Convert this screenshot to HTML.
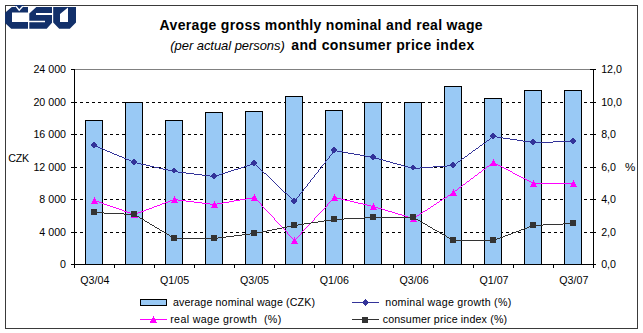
<!DOCTYPE html><html><head><meta charset="utf-8"><style>html,body{margin:0;padding:0;background:#fff;}svg{display:block;}text{font-family:"Liberation Sans",sans-serif;}</style></head><body>
<svg width="643" height="333" viewBox="0 0 643 333">
<rect x="0" y="0" width="643" height="333" fill="#fff"/>
<rect x="5.5" y="5.5" width="632" height="323" fill="none" stroke="#3a3a3a" stroke-width="1" shape-rendering="crispEdges"/>
<g fill="#12306a" shape-rendering="geometricPrecision">
<path d="M5,12.8 L11.8,7 L28,7 L28,12.6 L12,12.6 L12,22 L28,22 L28,28.7 L11.2,28.7 L5,23 Z"/>
<path d="M14.2,5 L24.4,5 L19.1,11 Z"/>
</g>
<defs><clipPath id="vc"><rect x="0" y="5.9" width="40" height="10"/></clipPath></defs>
<path d="M14.7,4.6 L19.2,10.1 L24,4.8" fill="none" stroke="#fff" stroke-width="1.35" clip-path="url(#vc)"/>
<path fill="#12306a" d="M29.3,13.4 L36.3,7 L52,7 L52,13 L36,13 L36,15.1 L52,15.1 L52,22.7 L46.7,28.7 L29.3,28.7 L29.3,22.2 L45,22.2 L45,20.7 L29.3,20.7 Z"/>
<path fill="#12306a" d="M53.2,7 L76,7 L76,22.5 L69.8,28.7 L59.2,28.7 L53.2,22.5 Z M60,14 L68,7.6 L68,22 L60,22 Z" fill-rule="evenodd"/>
<text x="159.6" y="29.5" font-size="14" font-weight="bold" fill="#000" textLength="323" lengthAdjust="spacing">Average gross monthly nominal and real wage</text>
<text x="170.3" y="49.5" font-size="13" font-style="italic" fill="#000" textLength="114.5" lengthAdjust="spacing">(per actual persons)</text>
<text x="291.2" y="49.5" font-size="14" font-weight="bold" fill="#000" textLength="183" lengthAdjust="spacing">and consumer price index</text>
<line x1="74" y1="102.5" x2="593" y2="102.5" stroke="#000" stroke-width="1" stroke-dasharray="3 3" shape-rendering="crispEdges"/>
<line x1="74" y1="134.5" x2="593" y2="134.5" stroke="#000" stroke-width="1" stroke-dasharray="3 3" shape-rendering="crispEdges"/>
<line x1="74" y1="167.5" x2="593" y2="167.5" stroke="#000" stroke-width="1" stroke-dasharray="3 3" shape-rendering="crispEdges"/>
<line x1="74" y1="199.5" x2="593" y2="199.5" stroke="#000" stroke-width="1" stroke-dasharray="3 3" shape-rendering="crispEdges"/>
<line x1="74" y1="232.5" x2="593" y2="232.5" stroke="#000" stroke-width="1" stroke-dasharray="3 3" shape-rendering="crispEdges"/>
<line x1="75" y1="69.5" x2="593" y2="69.5" stroke="#808080" stroke-width="1" shape-rendering="crispEdges"/>
<rect x="85.5" y="120.5" width="17" height="144" fill="#99c9f5" stroke="#000" stroke-width="1" shape-rendering="crispEdges"/>
<rect x="125.5" y="102.5" width="17" height="162" fill="#99c9f5" stroke="#000" stroke-width="1" shape-rendering="crispEdges"/>
<rect x="165.5" y="120.5" width="17" height="144" fill="#99c9f5" stroke="#000" stroke-width="1" shape-rendering="crispEdges"/>
<rect x="205.5" y="112.5" width="17" height="152" fill="#99c9f5" stroke="#000" stroke-width="1" shape-rendering="crispEdges"/>
<rect x="245.5" y="111.5" width="17" height="153" fill="#99c9f5" stroke="#000" stroke-width="1" shape-rendering="crispEdges"/>
<rect x="285.5" y="96.5" width="17" height="168" fill="#99c9f5" stroke="#000" stroke-width="1" shape-rendering="crispEdges"/>
<rect x="325.5" y="110.5" width="17" height="154" fill="#99c9f5" stroke="#000" stroke-width="1" shape-rendering="crispEdges"/>
<rect x="364.5" y="102.5" width="17" height="162" fill="#99c9f5" stroke="#000" stroke-width="1" shape-rendering="crispEdges"/>
<rect x="404.5" y="102.5" width="17" height="162" fill="#99c9f5" stroke="#000" stroke-width="1" shape-rendering="crispEdges"/>
<rect x="444.5" y="86.5" width="17" height="178" fill="#99c9f5" stroke="#000" stroke-width="1" shape-rendering="crispEdges"/>
<rect x="484.5" y="98.5" width="17" height="166" fill="#99c9f5" stroke="#000" stroke-width="1" shape-rendering="crispEdges"/>
<rect x="524.5" y="90.5" width="17" height="174" fill="#99c9f5" stroke="#000" stroke-width="1" shape-rendering="crispEdges"/>
<rect x="564.5" y="90.5" width="17" height="174" fill="#99c9f5" stroke="#000" stroke-width="1" shape-rendering="crispEdges"/>
<g stroke="#000" stroke-width="1" shape-rendering="crispEdges">
<line x1="74.5" y1="69" x2="74.5" y2="268"/>
<line x1="593.5" y1="69" x2="593.5" y2="268"/>
<line x1="74" y1="264.5" x2="594" y2="264.5"/>
<line x1="71" y1="69.5" x2="75" y2="69.5"/>
<line x1="590" y1="69.5" x2="596" y2="69.5"/>
<line x1="71" y1="102.5" x2="77" y2="102.5"/>
<line x1="590" y1="102.5" x2="596" y2="102.5"/>
<line x1="71" y1="134.5" x2="77" y2="134.5"/>
<line x1="590" y1="134.5" x2="596" y2="134.5"/>
<line x1="71" y1="167.5" x2="77" y2="167.5"/>
<line x1="590" y1="167.5" x2="596" y2="167.5"/>
<line x1="71" y1="199.5" x2="77" y2="199.5"/>
<line x1="590" y1="199.5" x2="596" y2="199.5"/>
<line x1="71" y1="232.5" x2="77" y2="232.5"/>
<line x1="590" y1="232.5" x2="596" y2="232.5"/>
<line x1="71" y1="264.5" x2="77" y2="264.5"/>
<line x1="590" y1="264.5" x2="596" y2="264.5"/>
<line x1="74.5" y1="265" x2="74.5" y2="268"/>
<line x1="114.5" y1="265" x2="114.5" y2="268"/>
<line x1="154.5" y1="265" x2="154.5" y2="268"/>
<line x1="194.5" y1="265" x2="194.5" y2="268"/>
<line x1="234.5" y1="265" x2="234.5" y2="268"/>
<line x1="274.5" y1="265" x2="274.5" y2="268"/>
<line x1="314.5" y1="265" x2="314.5" y2="268"/>
<line x1="353.5" y1="265" x2="353.5" y2="268"/>
<line x1="393.5" y1="265" x2="393.5" y2="268"/>
<line x1="433.5" y1="265" x2="433.5" y2="268"/>
<line x1="473.5" y1="265" x2="473.5" y2="268"/>
<line x1="513.5" y1="265" x2="513.5" y2="268"/>
<line x1="553.5" y1="265" x2="553.5" y2="268"/>
<line x1="593.5" y1="265" x2="593.5" y2="268"/>
</g>
<path d="M493 136h4v1h-4zM491 137h2v1h-2zM497 137h6v1h-6zM490 138h1v1h-1zM503 138h7v1h-7zM489 139h1v1h-1zM510 139h7v1h-7zM487 140h2v1h-2zM517 140h6v1h-6zM486 141h1v1h-1zM523 141h7v1h-7zM553 141h21v1h-21zM485 142h1v1h-1zM530 142h23v1h-23zM483 143h2v1h-2zM482 144h1v1h-1zM94 145h2v1h-2zM480 145h2v1h-2zM96 146h2v1h-2zM479 146h1v1h-1zM98 147h2v1h-2zM478 147h1v1h-1zM100 148h3v1h-3zM476 148h2v1h-2zM103 149h2v1h-2zM475 149h1v1h-1zM105 150h2v1h-2zM334 150h3v1h-3zM473 150h2v1h-2zM107 151h3v1h-3zM333 151h1v1h-1zM337 151h6v1h-6zM472 151h1v1h-1zM110 152h2v1h-2zM332 152h1v1h-1zM343 152h5v1h-5zM471 152h1v1h-1zM112 153h2v1h-2zM332 153h1v1h-1zM348 153h6v1h-6zM469 153h2v1h-2zM114 154h3v1h-3zM331 154h1v1h-1zM354 154h6v1h-6zM468 154h1v1h-1zM117 155h2v1h-2zM330 155h1v1h-1zM360 155h5v1h-5zM467 155h1v1h-1zM119 156h3v1h-3zM329 156h1v1h-1zM365 156h6v1h-6zM465 156h2v1h-2zM122 157h2v1h-2zM329 157h1v1h-1zM371 157h4v1h-4zM464 157h1v1h-1zM124 158h2v1h-2zM328 158h1v1h-1zM375 158h4v1h-4zM462 158h2v1h-2zM126 159h3v1h-3zM327 159h1v1h-1zM379 159h4v1h-4zM461 159h1v1h-1zM129 160h2v1h-2zM326 160h1v1h-1zM383 160h3v1h-3zM460 160h1v1h-1zM131 161h2v1h-2zM325 161h1v1h-1zM386 161h4v1h-4zM458 161h2v1h-2zM133 162h4v1h-4zM325 162h1v1h-1zM390 162h3v1h-3zM457 162h1v1h-1zM137 163h4v1h-4zM253 163h2v1h-2zM324 163h1v1h-1zM393 163h4v1h-4zM456 163h1v1h-1zM141 164h5v1h-5zM250 164h3v1h-3zM255 164h1v1h-1zM323 164h1v1h-1zM397 164h4v1h-4zM454 164h2v1h-2zM146 165h4v1h-4zM247 165h3v1h-3zM256 165h1v1h-1zM322 165h1v1h-1zM401 165h3v1h-3zM447 165h7v1h-7zM150 166h4v1h-4zM244 166h3v1h-3zM257 166h1v1h-1zM321 166h1v1h-1zM404 166h4v1h-4zM433 166h14v1h-14zM154 167h5v1h-5zM241 167h3v1h-3zM258 167h1v1h-1zM321 167h1v1h-1zM408 167h4v1h-4zM420 167h13v1h-13zM159 168h4v1h-4zM238 168h3v1h-3zM259 168h1v1h-1zM320 168h1v1h-1zM412 168h8v1h-8zM163 169h5v1h-5zM234 169h4v1h-4zM260 169h1v1h-1zM319 169h1v1h-1zM168 170h4v1h-4zM231 170h3v1h-3zM261 170h1v1h-1zM318 170h1v1h-1zM172 171h6v1h-6zM228 171h3v1h-3zM262 171h1v1h-1zM318 171h1v1h-1zM178 172h8v1h-8zM225 172h3v1h-3zM263 172h1v1h-1zM317 172h1v1h-1zM186 173h8v1h-8zM222 173h3v1h-3zM264 173h2v1h-2zM316 173h1v1h-1zM194 174h8v1h-8zM219 174h3v1h-3zM266 174h1v1h-1zM315 174h1v1h-1zM202 175h8v1h-8zM216 175h3v1h-3zM267 175h1v1h-1zM314 175h1v1h-1zM210 176h6v1h-6zM268 176h1v1h-1zM314 176h1v1h-1zM269 177h1v1h-1zM313 177h1v1h-1zM270 178h1v1h-1zM312 178h1v1h-1zM271 179h1v1h-1zM311 179h1v1h-1zM272 180h1v1h-1zM310 180h1v1h-1zM273 181h1v1h-1zM310 181h1v1h-1zM274 182h1v1h-1zM309 182h1v1h-1zM275 183h1v1h-1zM308 183h1v1h-1zM276 184h1v1h-1zM307 184h1v1h-1zM277 185h1v1h-1zM307 185h1v1h-1zM278 186h1v1h-1zM306 186h1v1h-1zM279 187h1v1h-1zM305 187h1v1h-1zM280 188h1v1h-1zM304 188h1v1h-1zM281 189h1v1h-1zM303 189h1v1h-1zM282 190h1v1h-1zM303 190h1v1h-1zM283 191h1v1h-1zM302 191h1v1h-1zM284 192h2v1h-2zM301 192h1v1h-1zM286 193h1v1h-1zM300 193h1v1h-1zM287 194h1v1h-1zM299 194h1v1h-1zM288 195h1v1h-1zM299 195h1v1h-1zM289 196h1v1h-1zM298 196h1v1h-1zM290 197h1v1h-1zM297 197h1v1h-1zM291 198h1v1h-1zM296 198h1v1h-1zM292 199h1v1h-1zM296 199h1v1h-1zM293 200h1v1h-1zM295 200h1v1h-1zM294 201h1v1h-1z" fill="#333399" shape-rendering="crispEdges"/>
<path d="M94,141.6 L97.3,144.9 L94,148.20000000000002 L90.7,144.9 Z" fill="#333399" shape-rendering="crispEdges"/>
<path d="M134,158.79999999999998 L137.3,162.1 L134,165.4 L130.7,162.1 Z" fill="#333399" shape-rendering="crispEdges"/>
<path d="M174,167.39999999999998 L177.3,170.7 L174,174.0 L170.7,170.7 Z" fill="#333399" shape-rendering="crispEdges"/>
<path d="M214,172.6 L217.3,175.9 L214,179.20000000000002 L210.7,175.9 Z" fill="#333399" shape-rendering="crispEdges"/>
<path d="M254,159.6 L257.3,162.9 L254,166.20000000000002 L250.7,162.9 Z" fill="#333399" shape-rendering="crispEdges"/>
<path d="M294,197.7 L297.3,201 L294,204.3 L290.7,201 Z" fill="#333399" shape-rendering="crispEdges"/>
<path d="M334,146.7 L337.3,150 L334,153.3 L330.7,150 Z" fill="#333399" shape-rendering="crispEdges"/>
<path d="M373,153.6 L376.3,156.9 L373,160.20000000000002 L369.7,156.9 Z" fill="#333399" shape-rendering="crispEdges"/>
<path d="M413,164.39999999999998 L416.3,167.7 L413,171.0 L409.7,167.7 Z" fill="#333399" shape-rendering="crispEdges"/>
<path d="M453,161.7 L456.3,165 L453,168.3 L449.7,165 Z" fill="#333399" shape-rendering="crispEdges"/>
<path d="M493,132.5 L496.3,135.8 L493,139.10000000000002 L489.7,135.8 Z" fill="#333399" shape-rendering="crispEdges"/>
<path d="M533,138.89999999999998 L536.3,142.2 L533,145.5 L529.7,142.2 Z" fill="#333399" shape-rendering="crispEdges"/>
<path d="M573,137.89999999999998 L576.3,141.2 L573,144.5 L569.7,141.2 Z" fill="#333399" shape-rendering="crispEdges"/>
<path d="M493 162h1v1h-1zM491 163h2v1h-2zM494 163h2v1h-2zM490 164h1v1h-1zM496 164h2v1h-2zM489 165h1v1h-1zM498 165h2v1h-2zM487 166h2v1h-2zM500 166h2v1h-2zM486 167h1v1h-1zM502 167h2v1h-2zM485 168h1v1h-1zM504 168h2v1h-2zM483 169h2v1h-2zM506 169h2v1h-2zM482 170h1v1h-1zM508 170h2v1h-2zM481 171h1v1h-1zM510 171h2v1h-2zM479 172h2v1h-2zM512 172h1v1h-1zM478 173h1v1h-1zM513 173h2v1h-2zM477 174h1v1h-1zM515 174h2v1h-2zM475 175h2v1h-2zM517 175h2v1h-2zM474 176h1v1h-1zM519 176h2v1h-2zM473 177h1v1h-1zM521 177h2v1h-2zM471 178h2v1h-2zM523 178h2v1h-2zM470 179h1v1h-1zM525 179h2v1h-2zM469 180h1v1h-1zM527 180h2v1h-2zM467 181h2v1h-2zM529 181h2v1h-2zM466 182h1v1h-1zM531 182h2v1h-2zM465 183h1v1h-1zM533 183h41v1h-41zM463 184h2v1h-2zM462 185h1v1h-1zM461 186h1v1h-1zM459 187h2v1h-2zM458 188h1v1h-1zM457 189h1v1h-1zM455 190h2v1h-2zM454 191h1v1h-1zM453 192h1v1h-1zM451 193h2v1h-2zM450 194h1v1h-1zM448 195h2v1h-2zM447 196h1v1h-1zM252 197h3v1h-3zM334 197h3v1h-3zM445 197h2v1h-2zM246 198h6v1h-6zM255 198h1v1h-1zM333 198h1v1h-1zM337 198h4v1h-4zM443 198h2v1h-2zM173 199h5v1h-5zM240 199h6v1h-6zM256 199h1v1h-1zM332 199h1v1h-1zM341 199h4v1h-4zM442 199h1v1h-1zM94 200h2v1h-2zM170 200h3v1h-3zM178 200h8v1h-8zM234 200h6v1h-6zM257 200h1v1h-1zM331 200h1v1h-1zM345 200h5v1h-5zM440 200h2v1h-2zM96 201h3v1h-3zM168 201h2v1h-2zM186 201h8v1h-8zM229 201h5v1h-5zM258 201h1v1h-1zM330 201h1v1h-1zM350 201h4v1h-4zM439 201h1v1h-1zM99 202h3v1h-3zM165 202h3v1h-3zM194 202h8v1h-8zM223 202h6v1h-6zM259 202h1v1h-1zM329 202h1v1h-1zM354 202h4v1h-4zM437 202h2v1h-2zM102 203h2v1h-2zM162 203h3v1h-3zM202 203h8v1h-8zM217 203h6v1h-6zM260 203h1v1h-1zM328 203h1v1h-1zM358 203h5v1h-5zM436 203h1v1h-1zM104 204h3v1h-3zM160 204h2v1h-2zM210 204h7v1h-7zM261 204h1v1h-1zM327 204h1v1h-1zM363 204h4v1h-4zM434 204h2v1h-2zM107 205h3v1h-3zM157 205h3v1h-3zM261 205h1v1h-1zM327 205h1v1h-1zM367 205h4v1h-4zM433 205h1v1h-1zM110 206h3v1h-3zM154 206h3v1h-3zM262 206h1v1h-1zM326 206h1v1h-1zM371 206h4v1h-4zM431 206h2v1h-2zM113 207h3v1h-3zM152 207h2v1h-2zM263 207h1v1h-1zM325 207h1v1h-1zM375 207h3v1h-3zM430 207h1v1h-1zM116 208h3v1h-3zM149 208h3v1h-3zM264 208h1v1h-1zM324 208h1v1h-1zM378 208h4v1h-4zM428 208h2v1h-2zM119 209h3v1h-3zM146 209h3v1h-3zM265 209h1v1h-1zM323 209h1v1h-1zM382 209h3v1h-3zM427 209h1v1h-1zM122 210h2v1h-2zM144 210h2v1h-2zM266 210h1v1h-1zM322 210h1v1h-1zM385 210h3v1h-3zM425 210h2v1h-2zM124 211h3v1h-3zM141 211h3v1h-3zM267 211h1v1h-1zM321 211h1v1h-1zM388 211h4v1h-4zM423 211h2v1h-2zM127 212h3v1h-3zM138 212h3v1h-3zM268 212h1v1h-1zM320 212h1v1h-1zM392 212h3v1h-3zM422 212h1v1h-1zM130 213h3v1h-3zM136 213h2v1h-2zM269 213h1v1h-1zM319 213h1v1h-1zM395 213h3v1h-3zM420 213h2v1h-2zM133 214h3v1h-3zM270 214h1v1h-1zM318 214h1v1h-1zM398 214h4v1h-4zM419 214h1v1h-1zM271 215h1v1h-1zM317 215h1v1h-1zM402 215h3v1h-3zM417 215h2v1h-2zM272 216h1v1h-1zM316 216h1v1h-1zM405 216h3v1h-3zM416 216h1v1h-1zM273 217h1v1h-1zM315 217h1v1h-1zM408 217h4v1h-4zM414 217h2v1h-2zM274 218h1v1h-1zM314 218h1v1h-1zM412 218h2v1h-2zM274 219h1v1h-1zM314 219h1v1h-1zM275 220h1v1h-1zM313 220h1v1h-1zM276 221h1v1h-1zM312 221h1v1h-1zM277 222h1v1h-1zM311 222h1v1h-1zM278 223h1v1h-1zM310 223h1v1h-1zM279 224h1v1h-1zM309 224h1v1h-1zM280 225h1v1h-1zM308 225h1v1h-1zM281 226h1v1h-1zM307 226h1v1h-1zM282 227h1v1h-1zM306 227h1v1h-1zM283 228h1v1h-1zM305 228h1v1h-1zM284 229h1v1h-1zM304 229h1v1h-1zM285 230h1v1h-1zM303 230h1v1h-1zM286 231h1v1h-1zM302 231h1v1h-1zM287 232h1v1h-1zM301 232h1v1h-1zM287 233h1v1h-1zM301 233h1v1h-1zM288 234h1v1h-1zM300 234h1v1h-1zM289 235h1v1h-1zM299 235h1v1h-1zM290 236h1v1h-1zM298 236h1v1h-1zM291 237h1v1h-1zM297 237h1v1h-1zM292 238h1v1h-1zM296 238h1v1h-1zM293 239h1v1h-1zM295 239h1v1h-1zM294 240h1v1h-1z" fill="#ff00ff" shape-rendering="crispEdges"/>
<path d="M94.5,196.8 L98,204 L91,204 Z" fill="#ff00ff" shape-rendering="crispEdges"/>
<path d="M134.5,210.8 L138,218 L131,218 Z" fill="#ff00ff" shape-rendering="crispEdges"/>
<path d="M174.5,195.8 L178,203 L171,203 Z" fill="#ff00ff" shape-rendering="crispEdges"/>
<path d="M214.5,200.8 L218,208 L211,208 Z" fill="#ff00ff" shape-rendering="crispEdges"/>
<path d="M254.5,193.8 L258,201 L251,201 Z" fill="#ff00ff" shape-rendering="crispEdges"/>
<path d="M294.5,236.8 L298,244 L291,244 Z" fill="#ff00ff" shape-rendering="crispEdges"/>
<path d="M334.5,193.8 L338,201 L331,201 Z" fill="#ff00ff" shape-rendering="crispEdges"/>
<path d="M373.5,202.8 L377,210 L370,210 Z" fill="#ff00ff" shape-rendering="crispEdges"/>
<path d="M413.5,214.8 L417,222 L410,222 Z" fill="#ff00ff" shape-rendering="crispEdges"/>
<path d="M453.5,188.8 L457,196 L450,196 Z" fill="#ff00ff" shape-rendering="crispEdges"/>
<path d="M493.5,158.8 L497,166 L490,166 Z" fill="#ff00ff" shape-rendering="crispEdges"/>
<path d="M533.5,179.8 L537,187 L530,187 Z" fill="#ff00ff" shape-rendering="crispEdges"/>
<path d="M573.5,179.8 L577,187 L570,187 Z" fill="#ff00ff" shape-rendering="crispEdges"/>
<path d="M94 212h10v1h-10zM104 213h20v1h-20zM124 214h11v1h-11zM135 215h2v1h-2zM137 216h2v1h-2zM139 217h1v1h-1zM364 217h50v1h-50zM140 218h2v1h-2zM344 218h20v1h-20zM414 218h2v1h-2zM142 219h2v1h-2zM331 219h13v1h-13zM416 219h2v1h-2zM144 220h1v1h-1zM324 220h7v1h-7zM418 220h2v1h-2zM145 221h2v1h-2zM318 221h6v1h-6zM420 221h1v1h-1zM147 222h2v1h-2zM311 222h7v1h-7zM421 222h2v1h-2zM149 223h1v1h-1zM304 223h7v1h-7zM423 223h2v1h-2zM563 223h11v1h-11zM150 224h2v1h-2zM298 224h6v1h-6zM425 224h2v1h-2zM543 224h20v1h-20zM152 225h2v1h-2zM292 225h6v1h-6zM427 225h1v1h-1zM532 225h11v1h-11zM154 226h1v1h-1zM287 226h5v1h-5zM428 226h2v1h-2zM529 226h3v1h-3zM155 227h2v1h-2zM282 227h5v1h-5zM430 227h2v1h-2zM527 227h2v1h-2zM157 228h2v1h-2zM277 228h5v1h-5zM432 228h1v1h-1zM524 228h3v1h-3zM159 229h1v1h-1zM272 229h5v1h-5zM433 229h2v1h-2zM521 229h3v1h-3zM160 230h2v1h-2zM267 230h5v1h-5zM435 230h2v1h-2zM519 230h2v1h-2zM162 231h2v1h-2zM262 231h5v1h-5zM437 231h2v1h-2zM516 231h3v1h-3zM164 232h1v1h-1zM257 232h5v1h-5zM439 232h1v1h-1zM513 232h3v1h-3zM165 233h2v1h-2zM250 233h7v1h-7zM440 233h2v1h-2zM511 233h2v1h-2zM167 234h2v1h-2zM242 234h8v1h-8zM442 234h2v1h-2zM508 234h3v1h-3zM169 235h1v1h-1zM234 235h8v1h-8zM444 235h2v1h-2zM505 235h3v1h-3zM170 236h2v1h-2zM226 236h8v1h-8zM446 236h1v1h-1zM503 236h2v1h-2zM172 237h2v1h-2zM218 237h8v1h-8zM447 237h2v1h-2zM500 237h3v1h-3zM174 238h44v1h-44zM449 238h2v1h-2zM497 238h3v1h-3zM451 239h2v1h-2zM495 239h2v1h-2zM453 240h42v1h-42z" fill="#333333" shape-rendering="crispEdges"/>
<rect x="91" y="209" width="6" height="6" fill="#333333" shape-rendering="crispEdges"/>
<rect x="131" y="211.3" width="6" height="6" fill="#333333" shape-rendering="crispEdges"/>
<rect x="171" y="235.1" width="6" height="6" fill="#333333" shape-rendering="crispEdges"/>
<rect x="211" y="234.8" width="6" height="6" fill="#333333" shape-rendering="crispEdges"/>
<rect x="251" y="229.7" width="6" height="6" fill="#333333" shape-rendering="crispEdges"/>
<rect x="291" y="221.8" width="6" height="6" fill="#333333" shape-rendering="crispEdges"/>
<rect x="331" y="215.9" width="6" height="6" fill="#333333" shape-rendering="crispEdges"/>
<rect x="370" y="213.8" width="6" height="6" fill="#333333" shape-rendering="crispEdges"/>
<rect x="410" y="214.2" width="6" height="6" fill="#333333" shape-rendering="crispEdges"/>
<rect x="450" y="237.1" width="6" height="6" fill="#333333" shape-rendering="crispEdges"/>
<rect x="490" y="237.1" width="6" height="6" fill="#333333" shape-rendering="crispEdges"/>
<rect x="530" y="222" width="6" height="6" fill="#333333" shape-rendering="crispEdges"/>
<rect x="570" y="219.6" width="6" height="6" fill="#333333" shape-rendering="crispEdges"/>
<text x="66" y="73" font-size="10.67" text-anchor="end" fill="#000">24 000</text>
<text x="66" y="106" font-size="10.67" text-anchor="end" fill="#000">20 000</text>
<text x="66" y="138" font-size="10.67" text-anchor="end" fill="#000">16 000</text>
<text x="66" y="171" font-size="10.67" text-anchor="end" fill="#000">12 000</text>
<text x="66" y="203" font-size="10.67" text-anchor="end" fill="#000">8 000</text>
<text x="66" y="236" font-size="10.67" text-anchor="end" fill="#000">4 000</text>
<text x="66" y="268" font-size="10.67" text-anchor="end" fill="#000">0</text>
<text x="601.2" y="73" font-size="10.67" fill="#000">12,0</text>
<text x="601.2" y="106" font-size="10.67" fill="#000">10,0</text>
<text x="601.2" y="138" font-size="10.67" fill="#000">8,0</text>
<text x="601.2" y="171" font-size="10.67" fill="#000">6,0</text>
<text x="601.2" y="203" font-size="10.67" fill="#000">4,0</text>
<text x="601.2" y="236" font-size="10.67" fill="#000">2,0</text>
<text x="601.2" y="268" font-size="10.67" fill="#000">0,0</text>
<text x="8.2" y="162" font-size="10.67" fill="#000" textLength="20.8" lengthAdjust="spacing">CZK</text>
<text x="624.9" y="170.5" font-size="11" fill="#000" textLength="10.3" lengthAdjust="spacingAndGlyphs">%</text>
<text x="94.8" y="284" font-size="10.67" text-anchor="middle" fill="#000">Q3/04</text>
<text x="174.6" y="284" font-size="10.67" text-anchor="middle" fill="#000">Q1/05</text>
<text x="254.5" y="284" font-size="10.67" text-anchor="middle" fill="#000">Q3/05</text>
<text x="334.3" y="284" font-size="10.67" text-anchor="middle" fill="#000">Q1/06</text>
<text x="414.1" y="284" font-size="10.67" text-anchor="middle" fill="#000">Q3/06</text>
<text x="494.0" y="284" font-size="10.67" text-anchor="middle" fill="#000">Q1/07</text>
<text x="573.8" y="284" font-size="10.67" text-anchor="middle" fill="#000">Q3/07</text>
<rect x="140.5" y="299.5" width="26" height="6" fill="#99c9f5" stroke="#000" stroke-width="1" shape-rendering="crispEdges"/>
<text x="173" y="306" font-size="10.67" fill="#000" textLength="142" lengthAdjust="spacing">average nominal wage (CZK)</text>
<line x1="140" y1="319.5" x2="167" y2="319.5" stroke="#ff00ff" stroke-width="1" shape-rendering="crispEdges"/>
<path d="M153.3,316 L156.9,322.8 L149.7,322.8 Z" fill="#ff00ff" shape-rendering="crispEdges"/>
<text x="170.2" y="322.8" font-size="10.67" fill="#000" xml:space="preserve" textLength="111" lengthAdjust="spacing">real wage growth  (%)</text>
<line x1="352" y1="302.5" x2="379" y2="302.5" stroke="#333399" stroke-width="1" shape-rendering="crispEdges"/>
<path d="M365.5,299.2 L368.8,302.5 L365.5,305.8 L362.2,302.5 Z" fill="#333399" shape-rendering="crispEdges"/>
<text x="385.2" y="306" font-size="10.67" fill="#000" textLength="126" lengthAdjust="spacing">nominal wage growth (%)</text>
<line x1="352" y1="319.5" x2="379" y2="319.5" stroke="#333333" stroke-width="1" shape-rendering="crispEdges"/>
<rect x="362.2" y="316.5" width="6" height="6" fill="#333333" shape-rendering="crispEdges"/>
<text x="382.7" y="322.8" font-size="10.67" fill="#000" textLength="124.4" lengthAdjust="spacing">consumer price index (%)</text>
</svg></body></html>
